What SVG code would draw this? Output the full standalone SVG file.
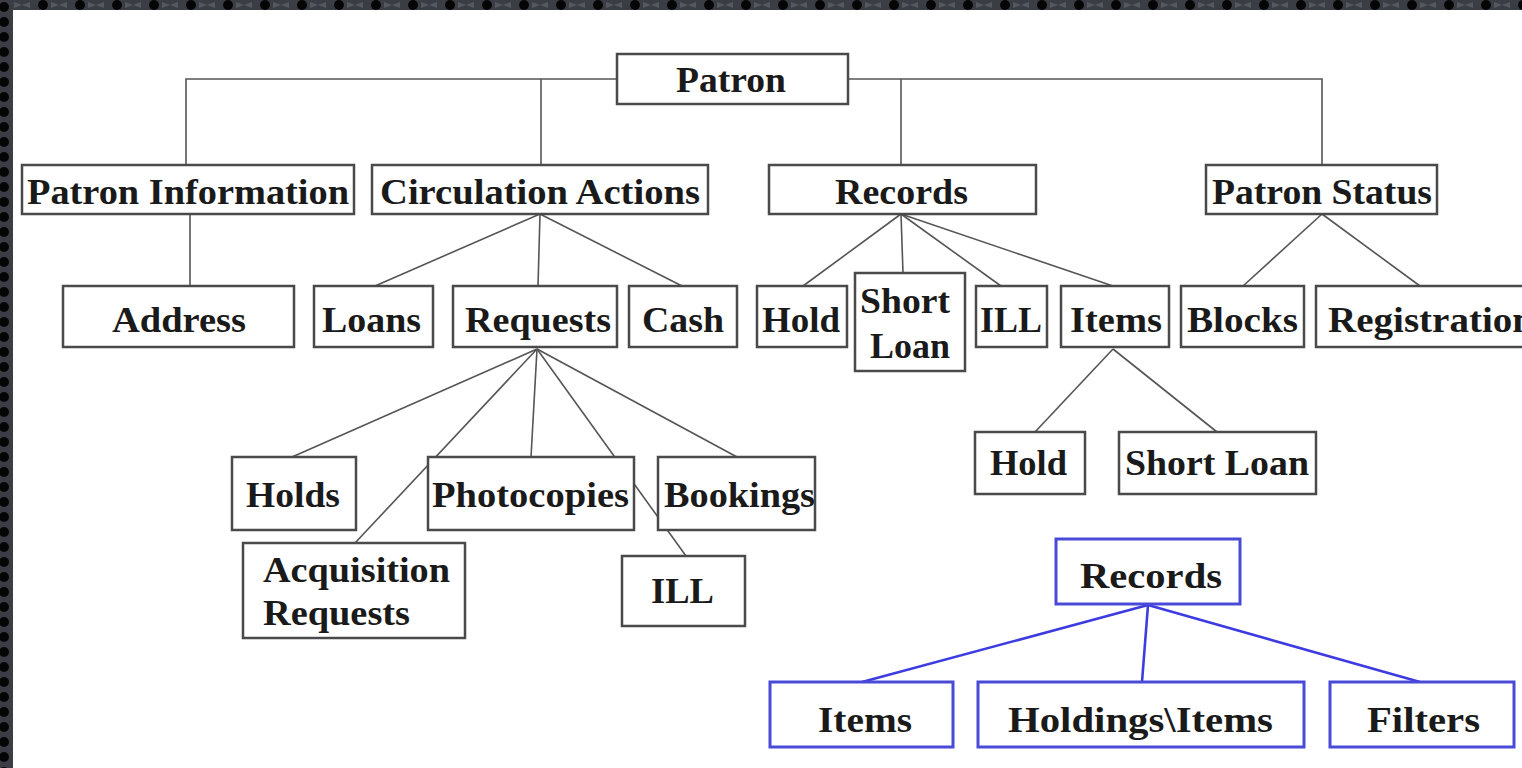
<svg xmlns="http://www.w3.org/2000/svg" width="1522" height="768" viewBox="0 0 1522 768">
<defs>
<style>
.b{fill:#fff;stroke:#4a4a4a;stroke-width:2.5}
.bb{fill:#fff;stroke:#4a4ad8;stroke-width:3}
.t{font-family:"Liberation Serif","Times New Roman",serif;font-weight:bold;font-size:36px;fill:#1a1a1a}
.c line,.c polyline{stroke:#555;stroke-width:1.6;fill:none}
.cb line{stroke:#3c3ce0;stroke-width:2.6}
</style>
<pattern id="dt" x="0" y="0" width="37" height="10" patternUnits="userSpaceOnUse">
<rect width="37" height="10" fill="#3a3d43"/>
<circle cx="6" cy="5" r="5" fill="#050505"/>
<path d="M14 2 L22 5 L14 8 Z M30 2 L22 5 L30 8 Z" fill="#55585e"/>
</pattern>
<pattern id="dl" x="0" y="0" width="13" height="15" patternUnits="userSpaceOnUse">
<rect width="13" height="15" fill="#3a3d43"/>
<circle cx="4" cy="7" r="5" fill="#050505"/>
</pattern>
</defs>
<rect width="1522" height="768" fill="#fff"/>
<rect x="0" y="0" width="1522" height="10" fill="url(#dt)"/>
<rect x="0" y="0" width="13" height="768" fill="url(#dl)"/>

<g id="connectors" class="c">
<polyline points="186,165 186,79 1322,79 1322,165"/>
<line x1="541" y1="79" x2="541" y2="165"/>
<line x1="901" y1="79" x2="901" y2="165"/>
<line x1="190" y1="214" x2="190" y2="286"/>
<line x1="540" y1="214" x2="375" y2="286"/>
<line x1="540" y1="214" x2="538" y2="286"/>
<line x1="540" y1="214" x2="682" y2="286"/>
<line x1="901" y1="214" x2="803" y2="286"/>
<line x1="901" y1="214" x2="903" y2="273"/>
<line x1="901" y1="214" x2="1001" y2="286"/>
<line x1="901" y1="214" x2="1113" y2="286"/>
<line x1="1322" y1="214" x2="1243" y2="286"/>
<line x1="1322" y1="214" x2="1420" y2="286"/>
<line x1="537" y1="349" x2="292" y2="457"/>
<line x1="537" y1="349" x2="355" y2="543"/>
<line x1="537" y1="349" x2="531" y2="457"/>
<line x1="537" y1="349" x2="686" y2="556"/>
<line x1="537" y1="349" x2="737" y2="457"/>
<line x1="1113" y1="349" x2="1035" y2="432"/>
<line x1="1113" y1="349" x2="1217" y2="432"/>
</g>
<g id="connectors-blue" class="cb">
<line x1="1148" y1="605" x2="862" y2="682"/>
<line x1="1148" y1="605" x2="1142" y2="682"/>
<line x1="1148" y1="605" x2="1420" y2="682"/>
</g>

<g id="patron"><rect class="b" x="617" y="54" width="231" height="50"/><text class="t" x="676" y="92" textLength="110" lengthAdjust="spacingAndGlyphs">Patron</text></g>
<g id="patron-information"><rect class="b" x="22" y="165" width="332" height="49"/><text class="t" x="27" y="204" textLength="322" lengthAdjust="spacingAndGlyphs">Patron Information</text></g>
<g id="circulation-actions"><rect class="b" x="372" y="165" width="336" height="49"/><text class="t" x="380" y="204" textLength="320" lengthAdjust="spacingAndGlyphs">Circulation Actions</text></g>
<g id="records"><rect class="b" x="769" y="165" width="267" height="49"/><text class="t" x="835" y="204" textLength="133" lengthAdjust="spacingAndGlyphs">Records</text></g>
<g id="patron-status"><rect class="b" x="1206" y="165" width="231" height="49"/><text class="t" x="1212" y="204" textLength="220" lengthAdjust="spacingAndGlyphs">Patron Status</text></g>

<g id="address"><rect class="b" x="63" y="286" width="231" height="61"/><text class="t" x="112" y="332" textLength="134" lengthAdjust="spacingAndGlyphs">Address</text></g>
<g id="loans"><rect class="b" x="314" y="286" width="119" height="61"/><text class="t" x="322" y="332" textLength="99" lengthAdjust="spacingAndGlyphs">Loans</text></g>
<g id="requests"><rect class="b" x="453" y="286" width="164" height="61"/><text class="t" x="465" y="332" textLength="146" lengthAdjust="spacingAndGlyphs">Requests</text></g>
<g id="cash"><rect class="b" x="629" y="286" width="108" height="61"/><text class="t" x="642" y="332" textLength="82" lengthAdjust="spacingAndGlyphs">Cash</text></g>
<g id="hold"><rect class="b" x="757" y="286" width="90" height="61"/><text class="t" x="762" y="332" textLength="78" lengthAdjust="spacingAndGlyphs">Hold</text></g>
<g id="short-loan"><rect class="b" x="855" y="273" width="110" height="98"/><text class="t" x="860" y="313" textLength="90" lengthAdjust="spacingAndGlyphs">Short</text><text class="t" x="870" y="358" textLength="80" lengthAdjust="spacingAndGlyphs">Loan</text></g>
<g id="ill"><rect class="b" x="976" y="286" width="71" height="61"/><text class="t" x="980" y="332" textLength="62" lengthAdjust="spacingAndGlyphs">ILL</text></g>
<g id="items"><rect class="b" x="1061" y="286" width="108" height="61"/><text class="t" x="1070" y="332" textLength="92" lengthAdjust="spacingAndGlyphs">Items</text></g>
<g id="blocks"><rect class="b" x="1181" y="286" width="123" height="61"/><text class="t" x="1187" y="332" textLength="111" lengthAdjust="spacingAndGlyphs">Blocks</text></g>
<g id="registration"><rect class="b" x="1316" y="286" width="230" height="61"/><text class="t" x="1328" y="332" textLength="206" lengthAdjust="spacingAndGlyphs">Registration</text></g>

<g id="holds"><rect class="b" x="232" y="457" width="124" height="73"/><text class="t" x="246" y="507" textLength="94" lengthAdjust="spacingAndGlyphs">Holds</text></g>
<g id="photocopies"><rect class="b" x="428" y="457" width="206" height="73"/><text class="t" x="432" y="507" textLength="197" lengthAdjust="spacingAndGlyphs">Photocopies</text></g>
<g id="bookings"><rect class="b" x="658" y="457" width="157" height="73"/><text class="t" x="664" y="507" textLength="151" lengthAdjust="spacingAndGlyphs">Bookings</text></g>
<g id="acquisition-requests"><rect class="b" x="243" y="543" width="222" height="95"/><text class="t" x="263" y="582" textLength="187" lengthAdjust="spacingAndGlyphs">Acquisition</text><text class="t" x="263" y="625" textLength="147" lengthAdjust="spacingAndGlyphs">Requests</text></g>
<g id="ill-2"><rect class="b" x="622" y="556" width="123" height="70"/><text class="t" x="651" y="603" textLength="63" lengthAdjust="spacingAndGlyphs">ILL</text></g>

<g id="hold-2"><rect class="b" x="975" y="432" width="110" height="62"/><text class="t" x="990" y="475" textLength="77" lengthAdjust="spacingAndGlyphs">Hold</text></g>
<g id="short-loan-2"><rect class="b" x="1119" y="432" width="197" height="62"/><text class="t" x="1125" y="475" textLength="184" lengthAdjust="spacingAndGlyphs">Short Loan</text></g>

<g id="records-blue"><rect class="bb" x="1056" y="539" width="184" height="65"/><text class="t" x="1080" y="588" textLength="142" lengthAdjust="spacingAndGlyphs">Records</text></g>
<g id="items-blue"><rect class="bb" x="770" y="682" width="183" height="65"/><text class="t" x="818" y="732" textLength="94" lengthAdjust="spacingAndGlyphs">Items</text></g>
<g id="holdings-items"><rect class="bb" x="978" y="682" width="326" height="65"/><text class="t" x="1008" y="732" textLength="265" lengthAdjust="spacingAndGlyphs">Holdings\Items</text></g>
<g id="filters"><rect class="bb" x="1330" y="682" width="184" height="65"/><text class="t" x="1367" y="732" textLength="113" lengthAdjust="spacingAndGlyphs">Filters</text></g>
</svg>
